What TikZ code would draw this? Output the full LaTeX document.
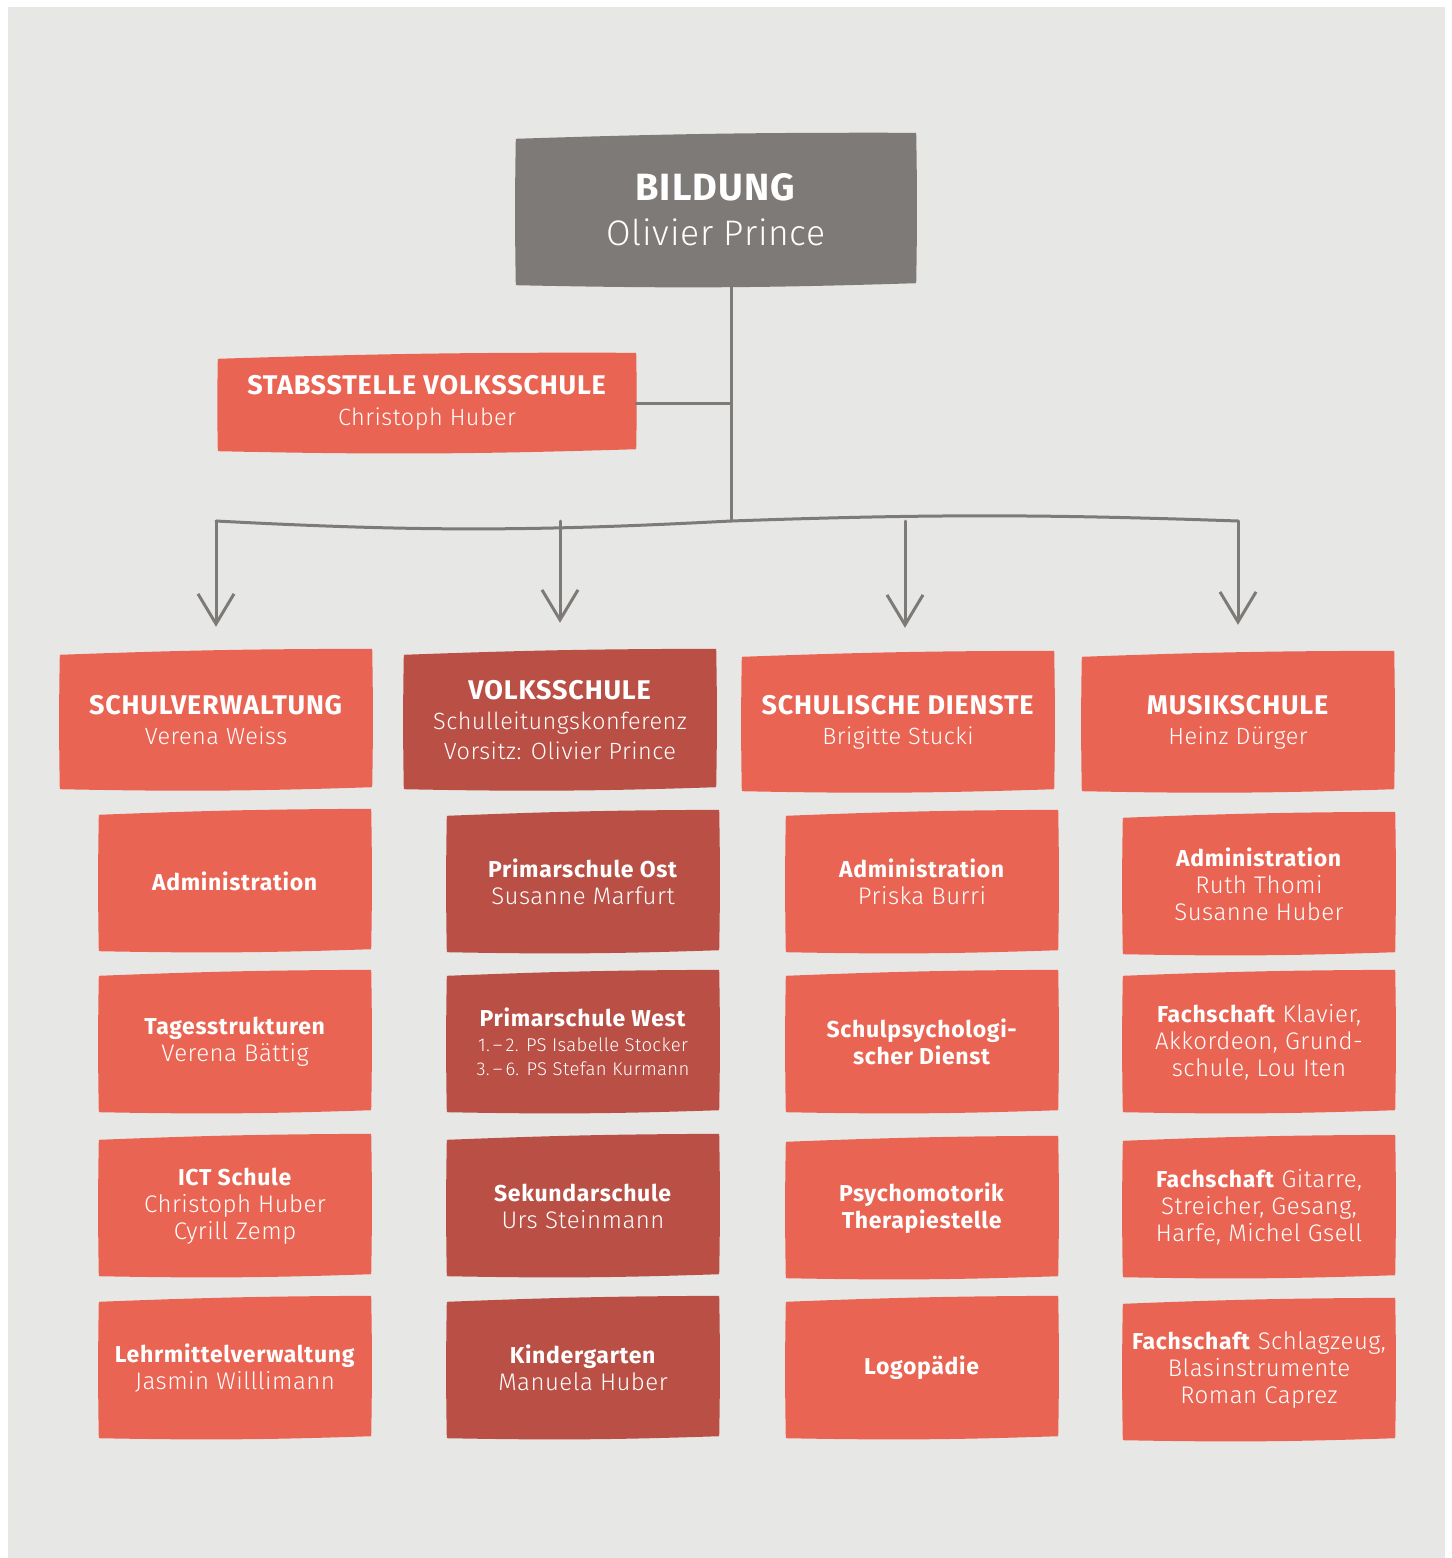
\documentclass[tikz,border=0pt]{standalone}
\usepackage{fontspec}
\setmainfont{Fira Sans}[LetterSpace=3]
\newfontfamily\lightfont[LetterSpace=2]{Fira Sans Light}
\usetikzlibrary{arrows.meta,backgrounds}

\definecolor{paper}{HTML}{E7E7E5}
\definecolor{coral}{HTML}{EA6453}
\definecolor{brick}{HTML}{B94F45}
\definecolor{slate}{HTML}{7E7A77}

% names under a title
\newcommand{\namesize}{24}
\newcommand{\who}[1]{{\fontsize{\namesize}{\namesize}\selectfont\lightfont #1}}
\newcommand{\minor}[1]{{\fontsize{18.5}{24}\selectfont\lightfont #1}}

% hand-cut paper behind a node
\newcommand{\sheet}[2]{%
  \fill[#2] ([yshift=-3pt]#1.north west) to[bend left=1] ([yshift=3pt]#1.north east)
    to[bend left=1] ([yshift=1pt]#1.south east) to[bend left=1.5] ([yshift=-1pt]#1.south west)
    to[bend left=1] cycle;}

\tikzset{
  unit/.style={align=center, text=white, inner sep=0pt},
  chief/.style={unit, minimum width=400pt, minimum height=148pt,
    font=\fontsize{38}{45}\selectfont\def\namesize{35.5}},
  staff/.style={unit, minimum width=418pt, minimum height=94pt,
    font=\fontsize{27}{31}\selectfont\def\namesize{23.5}},
  dept/.style={unit, minimum width=312pt, minimum height=136pt,
    font=\fontsize{27}{30}\selectfont\def\namesize{23.5}},
  team/.style={unit, minimum width=272pt, minimum height=138pt,
    font=\fontsize{23}{27}\selectfont\def\namesize{24}},
  link/.style={draw=slate, line width=3pt},
  flow/.style={link, -{Straight Barb[length=30pt, width=36pt]}},
}

\begin{document}
\begin{tikzpicture}[x=1pt, y=-1pt, line cap=round, line join=round]
  \useasboundingbox (0,0) rectangle (1451,1558);

  % Leitung und Stab
  \node[chief] (bild) at (716,210) {\textbf{BILDUNG}\\\who{Olivier Prince}};
  \node[staff] (stab) at (427,403) {\textbf{STABSSTELLE VOLKSSCHULE}\\\who{Christoph Huber}};

  % Abteilungen
  \node[dept] (sv) at (216,720) {\textbf{SCHULVERWALTUNG}\\\who{Verena Weiss}};
  \node[dept] (vs) at (560,720) {\textbf{VOLKSSCHULE}\\\who{Schulleitungskonferenz}\\\who{Vorsitz: Olivier Prince}};
  \node[dept] (sd) at (898,722) {\textbf{SCHULISCHE DIENSTE}\\\who{Brigitte Stucki}};
  \node[dept] (ms) at (1238,722) {\textbf{MUSIKSCHULE}\\\who{Heinz Dürger}};

  % Schulverwaltung
  \node[team] (sv1) at (235,881) {\textbf{Administration}};
  \node[team] (sv2) at (235,1042) {\textbf{Tagesstrukturen}\\\who{Verena Bättig}};
  \node[team] (sv3) at (235,1206) {\textbf{ICT Schule}\\\who{Christoph Huber}\\\who{Cyrill Zemp}};
  \node[team] (sv4) at (235,1368) {\textbf{Lehrmittelverwaltung}\\\who{Jasmin Willlimann}};

  % Volksschule
  \node[team] (vs1) at (583,882) {\textbf{Primarschule Ost}\\\who{Susanne Marfurt}};
  \node[team] (vs2) at (583,1042) {\textbf{Primarschule West}\\[-2pt]\minor{1.\,–\,2. PS Isabelle Stocker}\\[-3pt]\minor{3.\,–\,6. PS Stefan Kurmann}};
  \node[team] (vs3) at (583,1206) {\textbf{Sekundarschule}\\\who{Urs Steinmann}};
  \node[team] (vs4) at (583,1368) {\textbf{Kindergarten}\\\who{Manuela Huber}};

  % Schulische Dienste
  \node[team] (sd1) at (922,882) {\textbf{Administration}\\\who{Priska Burri}};
  \node[team] (sd2) at (922,1042) {\textbf{Schulpsychologi-}\\\textbf{scher Dienst}};
  \node[team] (sd3) at (922,1208) {\textbf{Psychomotorik}\\\textbf{Therapiestelle}};
  \node[team] (sd4) at (922,1368) {\textbf{Logopädie}};

  % Musikschule
  \node[team] (ms1) at (1259,884) {\textbf{Administration}\\\who{Ruth Thomi}\\\who{Susanne Huber}};
  \node[team] (ms2) at (1259,1042) {\textbf{Fachschaft} \who{Klavier,}\\\who{Akkordeon, Grund-}\\\who{schule, Lou Iten}};
  \node[team] (ms3) at (1259,1207) {\textbf{Fachschaft} \who{Gitarre,}\\\who{Streicher, Gesang,}\\\who{Harfe, Michel Gsell}};
  \node[team] (ms4) at (1259,1370) {\textbf{Fachschaft} \who{Schlagzeug,}\\\who{Blasinstrumente}\\\who{Roman Caprez}};

  % Linien
  \coordinate (hub) at (731,521);
  \draw[link] (bild.south -| hub) -- (hub);
  \draw[link] (stab.east) -- (stab.east -| hub);
  \draw[link] (sv.north |- hub) to[bend right=3] (hub) to[bend left=2] (ms.north |- hub);
  \draw[flow] (sv.north |- hub) -- ([yshift=25pt]sv.north);
  \draw[flow] (vs.north |- hub) -- ([yshift=29pt]vs.north);
  \draw[flow] ([xshift=7pt]sd.north |- hub) -- ([xshift=7pt, yshift=26pt]sd.north);
  \draw[flow] (ms.north |- hub) -- ([yshift=29pt]ms.north);

  \begin{pgfonlayer}{background}
    \fill[paper] (8,7) rectangle (1445,1558);
    \sheet{bild}{slate}
    \sheet{stab}{coral}
    \sheet{sv}{coral} \sheet{vs}{brick} \sheet{sd}{coral} \sheet{ms}{coral}
    \sheet{sv1}{coral} \sheet{sv2}{coral} \sheet{sv3}{coral} \sheet{sv4}{coral}
    \sheet{vs1}{brick} \sheet{vs2}{brick} \sheet{vs3}{brick} \sheet{vs4}{brick}
    \sheet{sd1}{coral} \sheet{sd2}{coral} \sheet{sd3}{coral} \sheet{sd4}{coral}
    \sheet{ms1}{coral} \sheet{ms2}{coral} \sheet{ms3}{coral} \sheet{ms4}{coral}
  \end{pgfonlayer}
\end{tikzpicture}
\end{document}
